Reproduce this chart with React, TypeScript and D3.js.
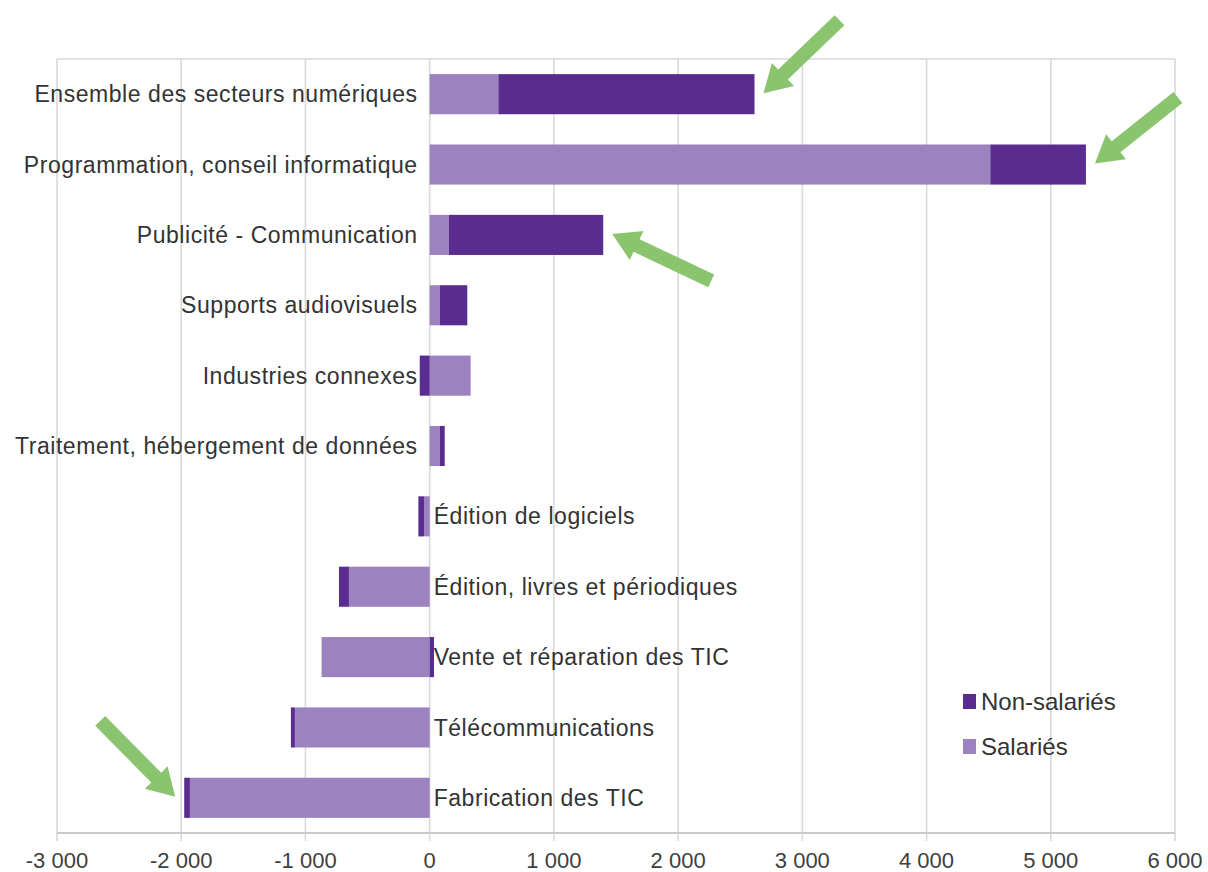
import React from "react";
import * as d3 from "d3";

const categories = [
  "Ensemble des secteurs numériques",
  "Programmation, conseil informatique",
  "Publicité - Communication",
  "Supports audiovisuels",
  "Industries connexes",
  "Traitement, hébergement de données",
  "Édition de logiciels",
  "Édition, livres et périodiques",
  "Vente et réparation des TIC",
  "Télécommunications",
  "Fabrication des TIC",
];
const salaries = [553, 4513, 155, 83, 330, 83, -45, -650, -870, -1085, -1930];
const nonSalaries = [2062, 770, 1242, 220, -80, 38, -46, -80, 35, -32, -46];
const seriesNames = ["Salariés", "Non-salariés"];
const xTicks = [-3000, -2000, -1000, 0, 1000, 2000, 3000, 4000, 5000, 6000];
// annotation arrows: which category, which end, direction toward tail
const arrows = [
  { cat: "Ensemble des secteurs numériques", end: "max", dir: [76, -73] },
  { cat: "Programmation, conseil informatique", end: "max", dir: [83, -66] },
  { cat: "Publicité - Communication", end: "max", dir: [99, 47] },
  { cat: "Fabrication des TIC", end: "min", dir: [-75, -76] },
];

const W = 1208;
const H = 872;
const FONT = "'Liberation Sans', Arial, sans-serif";
const DARK = "#5b2c8f";
const LIGHT = "#9c82bf";
const GREEN = "#8bc46f";

export default function App() {
  const x = d3.scaleLinear().domain([-3000, 6000]).range([57, 1175]);
  const y = d3
    .scaleBand<string>()
    .domain(categories)
    .range([59, 833])
    .paddingInner(0.43)
    .paddingOuter(0.215);

  const rows = categories.map((c, i) => ({
    cat: c,
    "Salariés": salaries[i],
    "Non-salariés": nonSalaries[i],
  }));
  const stack = d3
    .stack<any>()
    .keys(seriesNames)
    .offset(d3.stackOffsetDiverging);
  const stacked = stack(rows);
  const colors: Record<string, string> = { "Salariés": LIGHT, "Non-salariés": DARK };

  const fmt = (v: number) =>
    d3.format(",")(v).replace(/,/g, " ").replace(/\u2212/g, "-");

  const extent = (cat: string) => {
    const i = categories.indexOf(cat);
    let mn = 0,
      mx = 0;
    stacked.forEach((s) => {
      mn = Math.min(mn, s[i][0], s[i][1]);
      mx = Math.max(mx, s[i][0], s[i][1]);
    });
    return [mn, mx];
  };

  const arrowPath = (tip: [number, number], dir: number[]) => {
    const len = Math.hypot(dir[0], dir[1]);
    const u = [dir[0] / len, dir[1] / len];
    const n = [-u[1], u[0]];
    const Lh = 27,
      hw = 16,
      sw = 7;
    const tail = [tip[0] + dir[0], tip[1] + dir[1]];
    const b = [tip[0] + u[0] * Lh, tip[1] + u[1] * Lh];
    const pts = [
      tip,
      [b[0] + n[0] * hw, b[1] + n[1] * hw],
      [b[0] + n[0] * sw, b[1] + n[1] * sw],
      [tail[0] + n[0] * sw, tail[1] + n[1] * sw],
      [tail[0] - n[0] * sw, tail[1] - n[1] * sw],
      [b[0] - n[0] * sw, b[1] - n[1] * sw],
      [b[0] - n[0] * hw, b[1] - n[1] * hw],
    ];
    return "M" + pts.map((p) => p.join(",")).join("L") + "Z";
  };

  return (
    <svg
      width={W}
      height={H}
      style={{ position: "absolute", left: 0, top: 0, background: "#fff" }}
      fontFamily={FONT}
    >
      {/* gridlines */}
      {xTicks.map((t) => (
        <line
          key={"g" + t}
          x1={x(t)}
          x2={x(t)}
          y1={59}
          y2={841}
          stroke="#d9d9d9"
          strokeWidth={1.6}
        />
      ))}
      <line x1={57} x2={1175} y1={59} y2={59} stroke="#d9d9d9" strokeWidth={1.6} />
      <line x1={57} x2={1175} y1={833} y2={833} stroke="#c8c8c8" strokeWidth={1.8} />

      {/* bars */}
      {stacked.map((s) => (
        <g key={s.key} fill={colors[s.key]}>
          {s.map((d, i) => (
            <rect
              key={i}
              x={x(Math.min(d[0], d[1]))}
              width={Math.abs(x(d[1]) - x(d[0]))}
              y={y(categories[i])}
              height={y.bandwidth()}
            />
          ))}
        </g>
      ))}

      {/* category labels */}
      {categories.map((c, i) => {
        const total = salaries[i] + nonSalaries[i];
        const right = total < 0;
        return (
          <text
            key={c}
            x={right ? x(0) + 4 : x(0) - 12}
            y={(y(c) as number) + y.bandwidth() / 2}
            dy="0.35em"
            textAnchor={right ? "start" : "end"}
            fontSize={23}
            letterSpacing={0.55}
            fill="#333"
          >
            {c}
          </text>
        );
      })}

      {/* x tick labels */}
      {xTicks.map((t) => (
        <text
          key={"t" + t}
          x={x(t)}
          y={860}
          dy="0.35em"
          textAnchor="middle"
          fontSize={22}
          fill="#404040"
        >
          {fmt(t)}
        </text>
      ))}

      {/* legend */}
      {[
        { name: "Non-salariés", color: DARK, y: 702 },
        { name: "Salariés", color: LIGHT, y: 747 },
      ].map((l) => (
        <g key={l.name}>
          <rect x={963} y={l.y - 8} width={13} height={15} fill={l.color} />
          <text x={981} y={l.y} dy="0.35em" fontSize={24} fill="#333">
            {l.name}
          </text>
        </g>
      ))}

      {/* annotation arrows */}
      {arrows.map((a, i) => {
        const [mn, mx] = extent(a.cat);
        const v = a.end === "max" ? mx : mn;
        const tip: [number, number] = [
          x(v) + (a.end === "max" ? 9 : -9),
          (y(a.cat) as number) + y.bandwidth() / 2 - 1,
        ];
        return <path key={i} d={arrowPath(tip, a.dir)} fill={GREEN} />;
      })}
    </svg>
  );
}
